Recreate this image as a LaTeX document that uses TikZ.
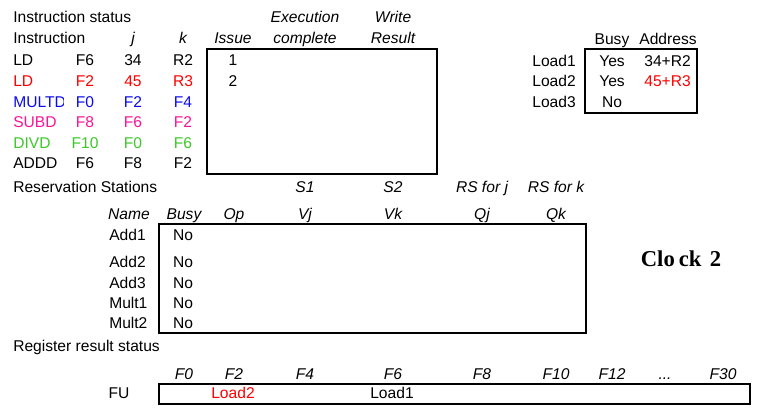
\documentclass[tikz,border=0pt]{standalone}
\usepackage{fontspec}
\setmainfont{Liberation Sans}
\newfontfamily\clockfont{Liberation Serif}
\definecolor{ldred}{RGB}{255,0,0}
\definecolor{multblue}{RGB}{10,10,235}
\definecolor{subpink}{RGB}{250,20,150}
\definecolor{divgreen}{RGB}{60,200,40}
\begin{document}
\begin{tikzpicture}[x=0.75pt,y=-0.75pt,
  every node/.style={inner sep=0pt,text height=8.4pt,text depth=0pt,
    font=\fontsize{11.7}{14}\selectfont},
  hd/.style={font=\fontsize{11.7}{14}\selectfont\itshape},
  lbl/.style={anchor=west},
  tbl/.style={line width=1.5pt}]
  \useasboundingbox (0,0) rectangle (757,417);

  % Instruction status
  \node[lbl] (insttitle) at (13,17) {Instruction status};
  \node[lbl] (insthead) at (13,38) {Instruction};
  \node[hd] (jhead) at (133,38) {j};
  \node[hd] (khead) at (183,38) {k};
  \node[hd] (issuehead) at (233,38) {Issue};
  \node[hd] (exechead) at (305,17) {Execution};
  \node[hd] (comphead) at (305,38) {complete};
  \node[hd] (writehead) at (393,17) {Write};
  \node[hd] (resulthead) at (393,38) {Result};

  \node[lbl] (ldone) at (13,60) {LD};
  \node (ldonei) at (85,60) {F6};
  \node (ldonej) at (133,60) {34};
  \node (ldonek) at (183,60) {R2};

  \node[lbl,text=ldred] (ldtwo) at (13,81) {LD};
  \node[text=ldred] (ldtwoi) at (85,81) {F2};
  \node[text=ldred] (ldtwoj) at (133,81) {45};
  \node[text=ldred] (ldtwok) at (183,81) {R3};

  \begin{scope}
    \clip (0,90) rectangle (63.5,115);
    \node[lbl,text=multblue] (multd) at (13,102) {MULTD};
  \end{scope}
  \node[text=multblue] (multdi) at (85,102) {F0};
  \node[text=multblue] (multdj) at (133,102) {F2};
  \node[text=multblue] (multdk) at (183,102) {F4};

  \node[lbl,text=subpink] (subd) at (13,122) {SUBD};
  \node[text=subpink] (subdi) at (85,122) {F8};
  \node[text=subpink] (subdj) at (133,122) {F6};
  \node[text=subpink] (subdk) at (183,122) {F2};

  \node[lbl,text=divgreen] (divd) at (13,143) {DIVD};
  \node[text=divgreen] (divdi) at (85,143) {F10};
  \node[text=divgreen] (divdj) at (133,143) {F0};
  \node[text=divgreen] (divdk) at (183,143) {F6};

  \node[lbl] (addd) at (13,163) {ADDD};
  \node (adddi) at (85,163) {F6};
  \node (adddj) at (133,163) {F8};
  \node (adddk) at (183,163) {F2};

  % Box
  \draw[tbl] (207,49) rectangle (437,174);
  \node (issueone) at (233,60) {1};
  \node (issuetwo) at (233,81) {2};

  % Load buffers
  \node (busyhead) at (612,39) {Busy};
  \node (addrhead) at (668,39) {Address};
  \node[anchor=east] (loadone) at (576,61) {Load1};
  \node[anchor=east] (loadtwo) at (576,81) {Load2};
  \node[anchor=east] (loadthree) at (576,102) {Load3};
  \node (busyone) at (612,61) {Yes};
  \node (busytwo) at (612,81) {Yes};
  \node (busythree) at (612,102) {No};
  \node[anchor=east] (addrone) at (691,61) {34+R2};
  \node[anchor=east,text=ldred] (addrtwo) at (691,81) {45+R3};
  \draw[tbl] (585,49) rectangle (697,113);

  % Reservation Stations
  \node[lbl] (rstitle) at (13,187) {Reservation Stations};
  \node[hd] (sone) at (305,187) {S1};
  \node[hd] (stwo) at (393,187) {S2};
  \node[hd] (rsj) at (482,187) {RS for j};
  \node[hd] (rsk) at (556,187) {RS for k};

  \node[hd] (namehead) at (129,214) {Name};
  \node[hd] (rsbusyhead) at (184,214) {Busy};
  \node[hd] (ophead) at (234,214) {Op};
  \node[hd] (vjhead) at (305,214) {Vj};
  \node[hd] (vkhead) at (393,214) {Vk};
  \node[hd] (qjhead) at (482,214) {Qj};
  \node[hd] (qkhead) at (556,214) {Qk};

  \node[lbl] (addone) at (109,235) {Add1};
  \node[lbl] (addtwo) at (109,262) {Add2};
  \node[lbl] (addthree) at (109,283) {Add3};
  \node[lbl] (multone) at (109,303) {Mult1};
  \node[lbl] (multtwo) at (109,323) {Mult2};
  \node (addonebusy) at (183,235) {No};
  \node (addtwobusy) at (183,262) {No};
  \node (addthreebusy) at (183,283) {No};
  \node (multonebusy) at (183,303) {No};
  \node (multtwobusy) at (183,323) {No};
  \draw[tbl] (159,224) rectangle (586,333);

  \node[font=\clockfont\fontsize{17}{20}\selectfont\bfseries,text height=11.2pt]
    (clock) at (681,259) {Clo\kern3pt ck\kern2pt\ 2};

  % Register result status
  \node[lbl] (regtitle) at (13,346) {Register result status};
  \node[hd] (fzero) at (184,374) {F0};
  \node[hd] (ftwo) at (234,374) {F2};
  \node[hd] (ffour) at (305,374) {F4};
  \node[hd] (fsix) at (393,374) {F6};
  \node[hd] (feight) at (482,374) {F8};
  \node[hd] (ften) at (556,374) {F10};
  \node[hd] (ftwelve) at (612,374) {F12};
  \node[hd] (fdots) at (665,374) {...};
  \node[hd] (fthirty) at (723,374) {F30};

  \node (fu) at (119,393) {FU};
  \node[text=ldred] (futwo) at (233,393) {Load2};
  \node (fusix) at (392,393) {Load1};
  \draw[tbl] (159,384) rectangle (750,404);
\end{tikzpicture}
\end{document}
